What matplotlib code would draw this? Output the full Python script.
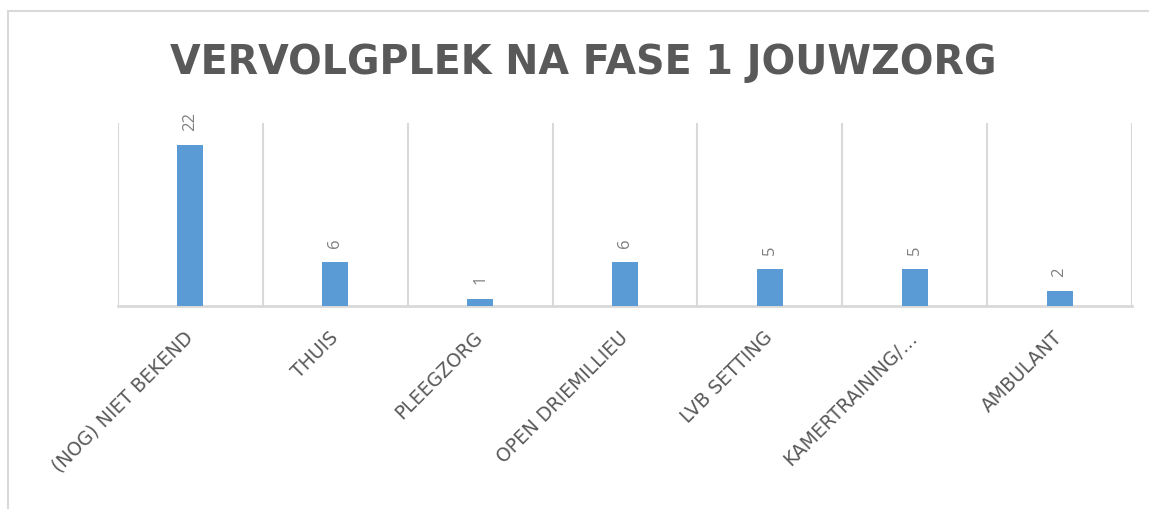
import numpy as np
import matplotlib.pyplot as plt
from matplotlib.patches import Rectangle

plt.rcParams['font.family'] = ['Open Sans', 'DejaVu Sans']

# data
categories = ['(NOG) NIET BEKEND', 'THUIS', 'PLEEGZORG', 'OPEN DRIEMILLIEU',
              'LVB SETTING', 'KAMERTRAINING/…', 'AMBULANT']
values = [22, 6, 1, 6, 5, 5, 2]

bar_color = '#5B9BD5'
grid_color = '#D9D9D9'
text_color = '#595959'

fig = plt.figure(figsize=(11.49, 5.10), dpi=100)
ax = fig.add_axes([118/1149, 1 - 307/510, (1132-118)/1149, (307-124)/510])

x = np.arange(len(categories))
ax.bar(x, values, width=0.18, color=bar_color, zorder=3)

for xi, v in zip(x, values):
    ax.annotate(str(v), (xi, v), xytext=(0, 11), textcoords='offset points',
                rotation=90, ha='center', va='bottom', fontsize=12,
                color='#7F7F7F')

ax.set_xlim(-0.5, len(categories) - 0.5)
ax.set_ylim(0, 25)

# vertical grid between categories
for b in np.arange(-0.5, len(categories), 1.0):
    ax.axvline(b, color=grid_color, lw=1.5, zorder=1)

for s in ['top', 'right', 'left']:
    ax.spines[s].set_visible(False)
ax.spines['bottom'].set_color(grid_color)
ax.spines['bottom'].set_linewidth(2)
ax.set_yticks([])
ax.set_xticks(x)
# wider font to get closer to the spaced-out Excel labels
ax.set_xticklabels(categories, rotation=45, ha='right', va='center',
                   rotation_mode='anchor', fontsize=13.5, color=text_color,
                   family='DejaVu Sans')
ax.tick_params(axis='x', length=0, pad=20)

fig.text(583/1149, 1 - 63/510, 'VERVOLGPLEK NA FASE 1 JOUWZORG',
         ha='center', va='center', fontsize=28.5, fontweight='bold',
         color=text_color, family='DejaVu Sans')

fig.add_artist(Rectangle((8/1149, -0.1), 2, 1 - 12/510 + 0.1,
                         transform=fig.transFigure, fill=False,
                         ec=grid_color, lw=1.5))

fig.savefig('out.png', dpi=100)
